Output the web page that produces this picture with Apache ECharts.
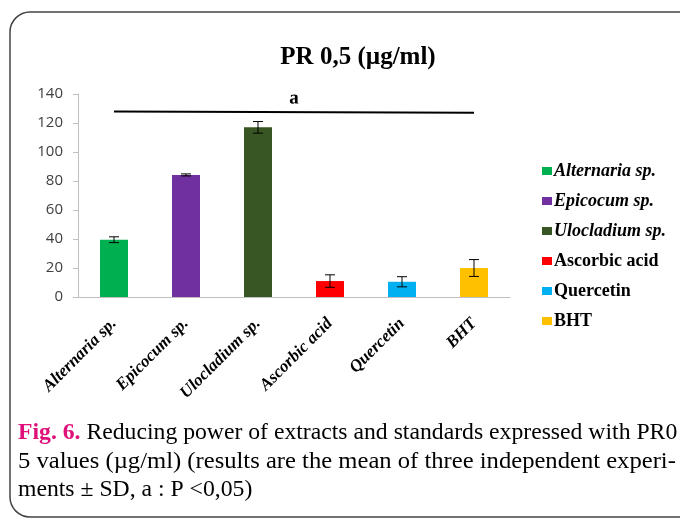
<!DOCTYPE html>
<html><head><meta charset="utf-8">
<script src="https://cdn.jsdelivr.net/npm/echarts@6/dist/echarts.min.js"></script>
<style>html,body{margin:0;padding:0;background:#fff}#c{width:680px;height:520px}</style>
</head><body><div id="c"></div>
<script>
const categories = ['Alternaria sp.', 'Epicocum sp.', 'Ulocladium sp.', 'Ascorbic acid', 'Quercetin', 'BHT'];
const values = [39.5, 84.2, 117, 11, 10.5, 20];
const sd = [2, 0.7, 4, 4.3, 3.5, 5.8];
const colors = ['#00b050', '#7030a0', '#375623', '#ff0000', '#00b0f0', '#ffc000'];
const italicNames = [true, true, true, false, false, false];
const yTicks = [0, 20, 40, 60, 80, 100, 120, 140];
const sigLine = { from: 'Alternaria sp.', to: 'BHT', yFrom: 128, yTo: 127, label: 'a' };

const chart = echarts.init(document.getElementById('c'));
const serif = '"Liberation Serif", "DejaVu Serif", serif';

const barSeries = categories.map((c, i) => ({
  name: c,
  type: 'bar',
  stack: 'all',
  barWidth: 28,
  itemStyle: { color: colors[i] },
  data: categories.map((_, j) => j === i ? values[i] : '-'),
  markLine: i === 0 ? {
    silent: true, symbol: 'none',
    lineStyle: { color: '#000', width: 2, type: 'solid' },
    label: { show: true, position: 'insideMiddleTop', formatter: sigLine.label, color: '#000',
      fontFamily: serif, fontWeight: 'bold', fontSize: 19, distance: 4 },
    data: [[{ coord: [sigLine.from, sigLine.yFrom] }, { coord: [sigLine.to, sigLine.yTo] }]]
  } : undefined
}));

const errSeries = {
  type: 'custom',
  name: 'err',
  z: 10,
  data: categories.map((c, i) => [i, values[i] - sd[i], values[i] + sd[i]]),
  renderItem: function (params, api) {
    const x = api.value(0);
    const lo = api.coord([x, api.value(1)]);
    const hi = api.coord([x, api.value(2)]);
    const w = 5;
    const st = { stroke: '#000', lineWidth: 1 };
    return { type: 'group', children: [
      { type: 'line', shape: { x1: lo[0], y1: lo[1], x2: hi[0], y2: hi[1] }, style: st },
      { type: 'line', shape: { x1: lo[0] - w, y1: lo[1], x2: lo[0] + w, y2: lo[1] }, style: st },
      { type: 'line', shape: { x1: hi[0] - w, y1: hi[1], x2: hi[0] + w, y2: hi[1] }, style: st }
    ]};
  }
};

chart.setOption({
  animation: false,
  title: {
    text: 'PR 0,5 (µg/ml)', left: 353, top: 40, textAlign: 'center',
    textStyle: { fontFamily: serif, fontWeight: 'bold', fontSize: 25, color: '#000' }
  },
  legend: {
    orient: 'vertical', left: 537, top: 157, itemWidth: 10, itemHeight: 8, itemGap: 12,
    icon: 'rect',
    textStyle: { fontFamily: serif, fontWeight: 'bold', fontSize: 18, color: '#000', padding: [0, 0, 0, -3] },
    data: categories.map((c, i) => ({ name: c, textStyle: { fontStyle: italicNames[i] ? 'italic' : 'normal' } }))
  },
  grid: { left: 78, right: 170, top: 94, bottom: 223 },
  xAxis: {
    type: 'category', data: categories,
    axisLine: { lineStyle: { color: '#bfbfbf', width: 1 } },
    axisTick: { show: false },
    axisLabel: { rotate: 45, interval: 0, margin: 24, color: '#000', fontFamily: serif,
      fontWeight: 'bold', fontStyle: 'italic', fontSize: 17 }
  },
  yAxis: {
    type: 'value', min: yTicks[0], max: yTicks[yTicks.length - 1], interval: 20,
    axisLine: { show: true, lineStyle: { color: '#bfbfbf', width: 1 } },
    axisTick: { show: true, length: 5, lineStyle: { color: '#bfbfbf' } },
    splitLine: { show: false },
    axisLabel: { color: '#404040', fontSize: 15, fontFamily: '"Open Sans", sans-serif', margin: 15 }
  },
  series: barSeries.concat([errSeries]),
  graphic: [
    { type: 'rect', shape: { x: 10, y: 12, width: 720, height: 505, r: 20 },
      style: { fill: 'none', stroke: '#444', lineWidth: 1.5 }, silent: true },
    { type: 'text', x: 18, y: 433, scaleX: 1.03, style: {
      text: '{m|Fig. 6.} Reducing power of extracts and standards expressed with PR0',
      fontFamily: serif, fontSize: 23, fill: '#000', verticalAlign: 'middle',
      rich: { m: { fontFamily: serif, fontSize: 23, fontWeight: 'bold', fill: '#e0107a', color: '#e0107a' } } } },
    { type: 'text', x: 18, y: 462, scaleX: 1.07, style: {
      text: '5 values (µg/ml) (results are the mean of three independent experi-',
      fontFamily: serif, fontSize: 23, fill: '#000', verticalAlign: 'middle' } },
    { type: 'text', x: 18, y: 490, scaleX: 1.03, style: {
      text: 'ments ± SD, a : P <0,05)', fontFamily: serif, fontSize: 23, fill: '#000', verticalAlign: 'middle' } }
  ]
});
</script></body></html>
